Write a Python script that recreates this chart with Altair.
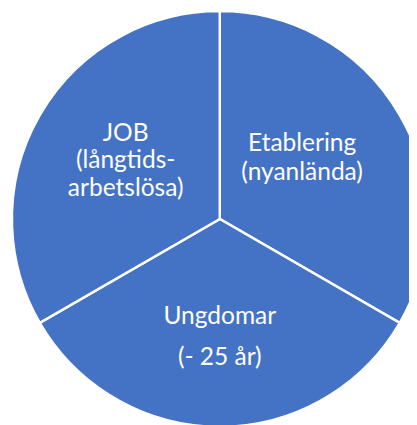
import altair as alt
import pandas as pd

groups = ["Etablering", "Ungdomar", "JOB"]
labels = ["Etablering\n(nyanlända)", "Ungdomar\n(- 25 år)", "JOB\n(långtids-\narbetslösa)"]
shares = [1, 1, 1]
order = [0, 1, 2]

df = pd.DataFrame({"group": groups, "label": labels, "share": shares, "order": order})

BLUE = "#4472C4"
CX, CY = 216, 211
R = 212
FONT = "Lato"

base = alt.Chart(df)

theta = alt.Theta("share:Q", stack=True)
ordr = alt.Order("order:Q")

arcs = base.mark_arc(outerRadius=R, stroke="white", strokeWidth=2.5, fill=BLUE).encode(
    theta=theta, order=ordr, x=alt.value(CX), y=alt.value(CY)
)


def text_layer(name, line_height, dx, dy, radius):
    return base.transform_calculate(
        txt=f"datum.group == '{name}' ? datum.label : ''"
    ).mark_text(
        radius=radius, lineBreak="\n", lineHeight=line_height, font=FONT,
        fontSize=25, color="white", align="center", baseline="middle", dx=dx, dy=dy
    ).encode(theta=theta, order=ordr, text="txt:N", x=alt.value(CX), y=alt.value(CY))


chart = alt.layer(
    arcs,
    text_layer("JOB", 28.5, 1, -32, 112),
    text_layer("Etablering", 29, -13, -21, 112),
    text_layer("Ungdomar", 42, 0, -13, 112),
).properties(
    width=409, height=417, padding=0, autosize=alt.AutoSizeParams(type="none")
).configure_view(stroke=None)

chart.save("out.html", embed_options={"renderer": "svg", "actions": False})
